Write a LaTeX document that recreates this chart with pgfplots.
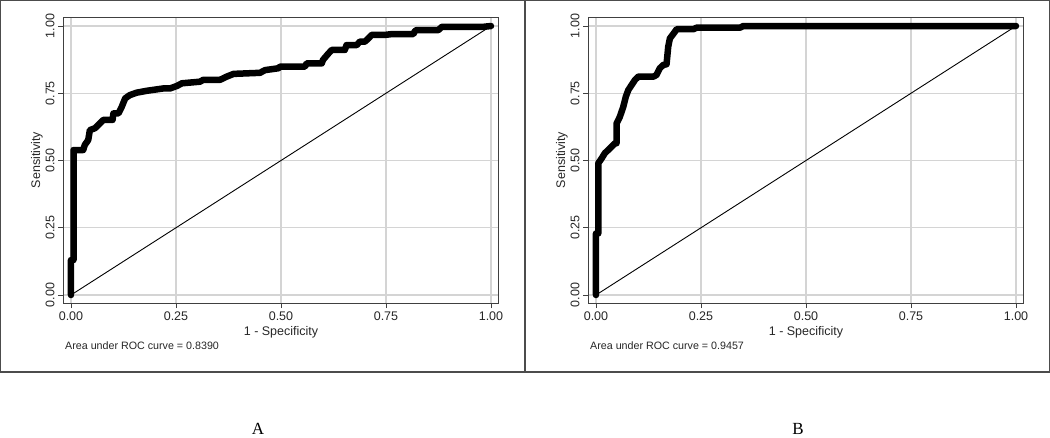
\documentclass[border=0pt]{standalone}
\usepackage{fontspec}
\setmainfont{Liberation Sans}
\newfontfamily\seriffont{Liberation Serif}
\usepackage{pgfplots}
\pgfplotsset{compat=1.18}

\pgfplotstableread{
x y
0 0
0 0.13
0.006 0.13
0.006 0.539
0.029 0.539
0.033 0.558
0.041 0.576
0.045 0.613
0.057 0.62
0.069 0.638
0.077 0.651
0.099 0.651
0.101 0.675
0.113 0.675
0.121 0.70
0.129 0.731
0.14 0.743
0.156 0.752
0.18 0.759
0.22 0.768
0.236 0.768
0.252 0.777
0.264 0.787
0.307 0.793
0.315 0.80
0.355 0.80
0.371 0.812
0.387 0.822
0.45 0.826
0.462 0.836
0.494 0.843
0.498 0.849
0.557 0.849
0.561 0.861
0.597 0.861
0.6 0.874
0.613 0.898
0.621 0.911
0.652 0.911
0.656 0.929
0.68 0.929
0.688 0.942
0.70 0.942
0.708 0.954
0.716 0.967
0.748 0.967
0.764 0.970
0.815 0.970
0.819 0.981
0.823 0.985
0.875 0.985
0.883 0.997
0.982 0.997
1 1
}\rocA

\pgfplotstableread{
x y
0 0
0 0.229
0.0056 0.229
0.0056 0.49
0.0135 0.508
0.021 0.527
0.029 0.539
0.037 0.551
0.045 0.564
0.049 0.564
0.049 0.638
0.057 0.663
0.065 0.70
0.071 0.737
0.077 0.762
0.085 0.781
0.093 0.80
0.101 0.812
0.137 0.812
0.144 0.818
0.152 0.843
0.16 0.855
0.168 0.858
0.172 0.923
0.176 0.954
0.188 0.979
0.192 0.988
0.232 0.988
0.24 0.994
0.343 0.994
0.351 1
1 1
}\rocB

\pgfplotsset{rocstyle/.style={
  scale only axis, width=435pt, height=286pt,
  xmin=-0.019, xmax=1.0167, ymin=-0.0297, ymax=1.0335,
  xtick={0,0.25,0.5,0.75,1}, ytick={0,0.25,0.5,0.75,1},
  /pgf/number format/fixed, /pgf/number format/fixed zerofill,
  /pgf/number format/precision=2, /pgf/number format/assume math mode=true,
  tick label style={font=\fontsize{12.5}{14}\selectfont, text=black!85},
  yticklabel style={rotate=90, anchor=south},
  grid=major, major grid style={draw=black!17, line width=1.2pt},
  axis line style={draw=black!75, line width=0.9pt},
  tick style={draw=black!75, line width=0.9pt},
  tick align=outside, major tick length=5pt, tick pos=left,
  axis background/.style={fill=white},
}}

\begin{document}
\begin{tikzpicture}[x=1pt,y=1pt]
\path[use as bounding box] (0,0) rectangle (1050,437);
\draw[black!70, line width=1.4pt] (0.7,65) rectangle (525,436.3);
\draw[black!70, line width=1.4pt] (525,65) rectangle (1049.3,436.3);

\begin{axis}[rocstyle, at={(63pt,134pt)}, anchor=south west]
\addplot[black, line width=0.9pt] coordinates {(0,0) (1,1)};
\addplot[black, line width=6.5pt, line cap=round, line join=round] table[x=x,y=y] {\rocA};
\end{axis}

\begin{axis}[rocstyle, at={(588pt,134pt)}, anchor=south west]
\addplot[black, line width=0.9pt] coordinates {(0,0) (1,1)};
\addplot[black, line width=6.5pt, line cap=round, line join=round] table[x=x,y=y] {\rocB};
\end{axis}

\node[anchor=base, font=\fontsize{12.5}{14}\selectfont, text=black!85] at (281,102) {1 - Specificity};
\node[anchor=base, font=\fontsize{12.5}{14}\selectfont, text=black!85] at (806,102) {1 - Specificity};
\node[rotate=90, anchor=base, font=\fontsize{12.5}{14}\selectfont, text=black!85] at (40,277) {Sensitivity};
\node[rotate=90, anchor=base, font=\fontsize{12.5}{14}\selectfont, text=black!85] at (565,277) {Sensitivity};
\node[anchor=base west, inner sep=0pt, font=\fontsize{10.7}{12}\selectfont, text=black!85] at (65,88) {Area under ROC curve = 0.8390};
\node[anchor=base west, inner sep=0pt, font=\fontsize{10.7}{12}\selectfont, text=black!85] at (590,88) {Area under ROC curve = 0.9457};
\node[anchor=base, inner sep=0pt, font=\seriffont\fontsize{17}{19}\selectfont] at (258,3) {A};
\node[anchor=base, inner sep=0pt, font=\seriffont\fontsize{17}{19}\selectfont] at (798,3) {B};
\end{tikzpicture}
\end{document}
